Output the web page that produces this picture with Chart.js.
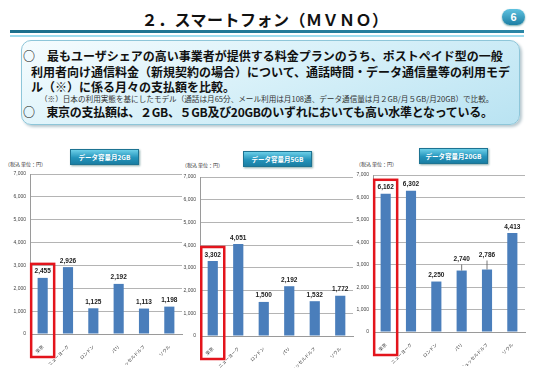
<!DOCTYPE html>
<html>
<head>
<meta charset="utf-8">
<script src="https://cdn.jsdelivr.net/npm/chart.js@4/dist/chart.umd.min.js"></script>
<style>
body { margin: 0; width: 550px; height: 373px; position: relative; overflow: hidden; background: #fff;
       font-family: "Noto Sans CJK JP", sans-serif; color: #111; }
.abs { position: absolute; }
#title { left: 0; width: 530px; top: 9px; text-align: center; font-size: 16px; font-weight: 700; letter-spacing: 0.5px; line-height: 20px; }
#rule1 { left: 10px; width: 514px; top: 30px; height: 3px; background: linear-gradient(90deg, #1b6f8c, #2a86a6); }
#rule2 { left: 10px; width: 514px; top: 35px; height: 2px; background: #9fdcee; }
#page { left: 502px; top: 9px; width: 23px; height: 16px; border-radius: 8px; color: #fff; font: bold 11px "Liberation Sans", sans-serif;
        text-align: center; line-height: 16px; background: linear-gradient(#5fc2e0, #1d7fa4); box-shadow: 0 1px 2px #7aa; }
#box { left: 21px; top: 40px; width: 497px; height: 83px; border: 1px solid #8ec6d9; border-radius: 10px;
       background: linear-gradient(160deg, #f6fcfe 0%, #d9f1f9 45%, #b9e3f2 100%); box-shadow: 2px 2px 3px #b8c8cf; }
.line { font-size: 12px; font-weight: 700; line-height: 14px; white-space: nowrap; color: #111; }
.note { font-size: 7.6px; line-height: 9px; white-space: nowrap; color: #333; }
.badge { height: 14px; width: 67px; color: #fff; font-size: 6.5px; font-weight: 700; text-align: center; line-height: 14px;
         background: linear-gradient(#6ccfe8, #2494bb 55%, #1a7ea3); border: 1px solid #1d7392; box-shadow: 1px 1px 2px #8aa; }
.unit { font-size: 5px; line-height: 6px; color: #333; white-space: nowrap; }
canvas { position: absolute; }
</style>
</head>
<body>
<div id="title" class="abs">２．スマートフォン（ＭＶＮＯ）</div>
<div id="rule1" class="abs"></div>
<div id="rule2" class="abs"></div>
<div id="page" class="abs">6</div>
<div id="box" class="abs"></div>
<div class="abs line" style="left:23px;top:49px">○　最もユーザシェアの高い事業者が提供する料金プランのうち、ポストペイド型の一般</div>
<div class="abs line" style="left:31px;top:65px">利用者向け通信料金（新規契約の場合）について、通話時間・データ通信量等の利用モデ</div>
<div class="abs line" style="left:31px;top:80px">ル（※）に係る月々の支払額を比較。</div>
<div class="abs note" style="left:40px;top:94px">（※）日本の利用実態を基にしたモデル（通話は月65分、メール利用は月108通、データ通信量は月２GB/月５GB/月20GB）で比較。</div>
<div class="abs line" style="left:23px;top:105px;letter-spacing:-0.3px">○　東京の支払額は、２GB、５GB及び20GBのいずれにおいても高い水準となっている。</div>

<div class="abs badge" id="b0" style="left:70px;top:149px"></div>
<div class="abs badge" id="b1" style="left:243px;top:151px"></div>
<div class="abs badge" id="b2" style="left:419px;top:148px"></div>
<div class="abs unit" style="left:5px;top:161px">（税込&nbsp;単位：円）</div>
<div class="abs unit" style="left:182px;top:162px">（税込&nbsp;単位：円）</div>
<div class="abs unit" style="left:356px;top:161px">（税込&nbsp;単位：円）</div>

<canvas id="c0" width="185" height="205" style="left:0px;top:160px"></canvas>
<canvas id="c1" width="180" height="205" style="left:180px;top:163px"></canvas>
<canvas id="c2" width="200" height="205" style="left:350px;top:161px"></canvas>

<script>
const cities = ['東京', 'ニューヨーク', 'ロンドン', 'パリ', 'デュッセルドルフ', 'ソウル'];
const fee2GB = [2455, 2926, 1125, 2192, 1113, 1198];
const fee5GB = [3302, 4051, 1500, 2192, 1532, 1772];
const fee20GB = [6162, 6302, 2250, 2740, 2786, 4413];
const panelTitles = ['データ容量月2GB', 'データ容量月5GB', 'データ容量月20GB'];
const yMax = 7000;
const yStep = 1000;

// value labels above the bars, some lifted with a leader line
const barLabels = {
    id: 'barLabels',
    afterDatasetsDraw(chart, args, opts) {
	const ctx = chart.ctx;
	const meta = chart.getDatasetMeta(0);
	const vals = chart.data.datasets[0].data;
	const lift = opts.lift || {};
	ctx.save();
	ctx.font = 'bold 6.5px "Liberation Sans", sans-serif';
	ctx.textAlign = 'center';
	ctx.textBaseline = 'bottom';
	meta.data.forEach(function(bar, i) {
	    var up = lift[i] || 0;
	    if (up) {
		ctx.strokeStyle = '#555';
		ctx.lineWidth = 0.8;
		ctx.beginPath();
		ctx.moveTo(bar.x, bar.y);
		ctx.lineTo(bar.x, bar.y - up - 1);
		ctx.stroke();
	    }
	    ctx.fillStyle = '#222';
	    ctx.fillText(vals[i].toLocaleString('en-US'), bar.x, bar.y - 3 - up);
	});
	ctx.restore();
    }
};

// red frame round the Tokyo bar
const tokyoBox = {
    id: 'tokyoBox',
    afterDraw(chart) {
	const ctx = chart.ctx;
	const x = chart.scales.x.getPixelForValue(0);
	const top = chart.scales.y.getPixelForValue(chart.data.datasets[0].data[0]) - 14;
	const bottom = chart.chartArea.bottom + 23;
	ctx.save();
	ctx.strokeStyle = '#e3141c';
	ctx.lineWidth = 2.5;
	ctx.strokeRect(x - 11.5, top, 23, bottom - top);
	ctx.restore();
    }
};

function make_chart(id, values, yWidth, xHeight, padRight, lift)
{
    new Chart(document.getElementById(id), {
	type: 'bar',
	data: {
	    labels: cities,
	    datasets: [{
		data: values,
		backgroundColor: '#4a7ebb',
		barPercentage: 0.8,
		categoryPercentage: 0.5
	    }]
	},
	options: {
	    responsive: false,
	    animation: false,
	    layout: { padding: { top: 14, right: padRight, left: 0, bottom: 0 } },
	    plugins: {
		legend: { display: false },
		tooltip: { enabled: false },
		barLabels: { lift: lift }
	    },
	    scales: {
		y: {
		    min: 0,
		    max: yMax,
		    afterFit: function(s) { s.width = yWidth; },
		    ticks: {
			stepSize: yStep,
			padding: 4,
			color: '#444',
			font: { size: 5, family: 'Liberation Sans' },
			callback: function(v) { return v.toLocaleString('en-US'); }
		    },
		    grid: { color: '#b4b4b4', drawTicks: false },
		    border: { color: '#9a9a9a' }
		},
		x: {
		    afterFit: function(s) { s.height = xHeight; },
		    ticks: {
			minRotation: 45,
			maxRotation: 45,
			padding: 2,
			color: '#333',
			font: { size: 4.5, family: 'Noto Sans CJK JP' }
		    },
		    grid: { display: false },
		    border: { color: '#9a9a9a' }
		}
	    }
	},
	plugins: [barLabels, tokyoBox]
    });
}

panelTitles.forEach(function(t, i) {
    document.getElementById('b' + i).textContent = t;
});

make_chart('c0', fee2GB, 30, 31, 3, {});
make_chart('c1', fee5GB, 20, 32, 7, {});
make_chart('c2', fee20GB, 23, 34, 25, {3: 5, 4: 8});
</script>
</body>
</html>
